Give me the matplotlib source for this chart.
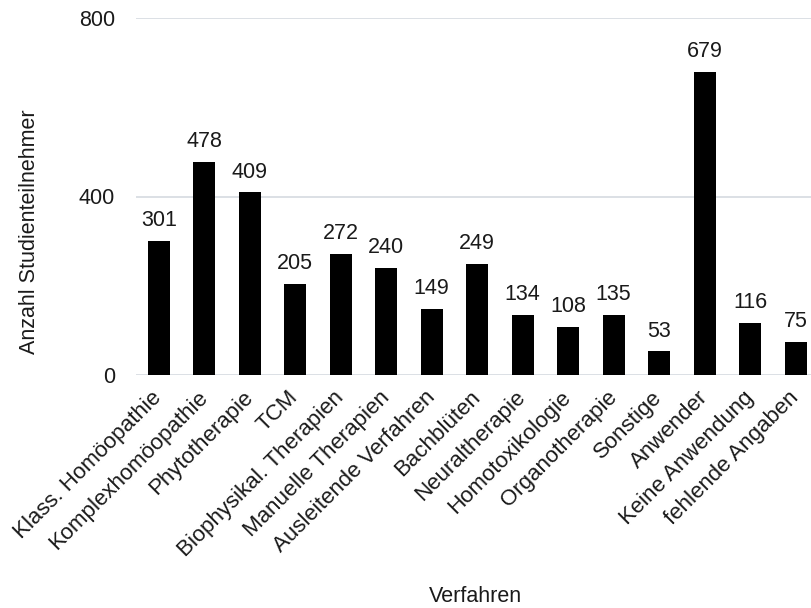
import matplotlib.pyplot as plt
import numpy as np

plt.rcParams['font.family'] = ['Liberation Sans', 'DejaVu Sans']

verfahren = ['Klass. Homöopathie', 'Komplexhomöopathie', 'Phytotherapie', 'TCM',
             'Biophysikal. Therapien', 'Manuelle Therapien', 'Ausleitende Verfahren',
             'Bachblüten', 'Neuraltherapie', 'Homotoxikologie', 'Organotherapie',
             'Sonstige', 'Anwender', 'Keine Anwendung', 'fehlende Angaben']
anzahl = [301, 478, 409, 205, 272, 240, 149, 249, 134, 108, 135, 53, 679, 116, 75]

fs = 15.5
txt = '#1a1a1a'

fig = plt.figure(figsize=(8.12, 6.08), dpi=100)
ax = fig.add_axes([136 / 812, 1 - 375 / 608, 676 / 812, 357 / 608])

x = np.arange(len(verfahren))
bars = ax.bar(x, anzahl, width=0.48, color='black', zorder=3)
for b, v in zip(bars, anzahl):
    ax.text(b.get_x() + b.get_width() / 2, v + 22, str(v),
            ha='center', va='bottom', fontsize=fs, color=txt)

ax.set_xlim(-0.5, 14.36)
ax.set_ylim(0, 800)
ax.set_yticks([0, 400, 800])
ax.yaxis.grid(True, color='#d9dde3', linewidth=1.3, zorder=0)
ax.set_xticks(x)
ax.set_xticklabels(verfahren, rotation=45, ha='right', va='center',
                   rotation_mode='anchor', fontsize=16, color=txt)
ax.tick_params(axis='both', length=0)
ax.tick_params(axis='y', labelsize=fs, labelcolor=txt, pad=15)
ax.tick_params(axis='x', pad=14)
for s in ax.spines.values():
    s.set_visible(False)

fig.text(30 / 812, 1 - 232 / 608, 'Anzahl Studienteilnehmer', rotation=90,
         ha='center', va='center', fontsize=fs, color=txt)
fig.text(475 / 812, 1 - 596 / 608, 'Verfahren', ha='center', va='center',
         fontsize=fs, color=txt)

fig.savefig('out.png', dpi=100)
